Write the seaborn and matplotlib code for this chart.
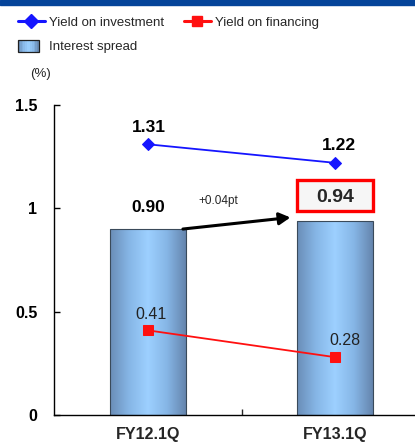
import numpy as np
import pandas as pd
import matplotlib
matplotlib.use("Agg")
import matplotlib.pyplot as plt
import seaborn as sns
from matplotlib.patches import Rectangle
from matplotlib.lines import Line2D
from matplotlib.legend_handler import HandlerBase
from matplotlib.colors import LinearSegmentedColormap

# --- data -------------------------------------------------------------
periods = ["FY12.1Q", "FY13.1Q"]
interest_spread = [0.90, 0.94]
yield_investment = [1.31, 1.22]
yield_financing = [0.41, 0.28]
spread_change_label = "+0.04pt"
y_ticks = [0, 0.5, 1, 1.5]
y_tick_labels = ["0", "0.5", "1", "1.5"]

df = pd.DataFrame({"period": periods, "spread": interest_spread,
                   "invest": yield_investment, "finance": yield_financing})

sns.set_theme(style="white")
plt.rcParams["font.family"] = ["Liberation Sans", "DejaVu Sans"]

fig = plt.figure(figsize=(4.15, 4.43), dpi=100)
ax = fig.add_axes([0.130, 0.063, 0.904, 0.700])

bar_cmap = LinearSegmentedColormap.from_list(
    "spread", ["#6a8db7", "#86b6e6", "#9dd0ff", "#86b6e6", "#6585ad"])

# bars
sns.barplot(data=df, x="period", y="spread", ax=ax, width=0.405,
            color="#8fc3f5", edgecolor="#3a4a5a", linewidth=0.8,
            saturation=1, zorder=2)

grad = np.linspace(0, 1, 256).reshape(1, -1)
bars = list(ax.patches)
for bar in bars:
    x0, w, h = bar.get_x(), bar.get_width(), bar.get_height()
    im = ax.imshow(grad, cmap=bar_cmap, aspect="auto",
                   extent=(x0, x0 + w, 0, h), zorder=2.1)
    im.set_clip_path(bar)
    bar.set_facecolor("none")
    bar.set_zorder(2.2)

# lines
sns.lineplot(x=[0, 1], y=yield_investment, ax=ax, color="#1515ff",
             lw=1.3, marker="D", markersize=6.5, markeredgecolor="#1515ff",
             zorder=4)
sns.lineplot(x=[0, 1], y=yield_financing, ax=ax, color="#ff1010",
             lw=1.3, marker="s", markersize=7, markeredgecolor="#ff1010",
             zorder=4)

ax.set_xlim(-0.5, 1.5)
ax.set_ylim(0, 1.5)

# value labels
def label(x, y, txt, dx, dy, size, weight="normal", color="black"):
    ax.annotate(txt, (x, y), xytext=(dx * 0.72, dy * 0.72),
                textcoords="offset points", ha="center", va="baseline",
                fontsize=size, fontweight=weight, color=color, zorder=6)

label(0, yield_investment[0], f"{yield_investment[0]:.2f}", 1, 12, 12.5, "bold")
label(1, yield_investment[1], f"{yield_investment[1]:.2f}", 4, 12.5, 12.5, "bold")
label(0, yield_financing[0], f"{yield_financing[0]:.2f}", 3, 11, 11.5, color="#222222")
label(1, yield_financing[1], f"{yield_financing[1]:.2f}", 10, 12.5, 11.5, color="#222222")
label(0, interest_spread[0], f"{interest_spread[0]:.2f}", 1, 17, 12.5, "bold")

# highlighted latest spread
b2 = bars[1]
box = Rectangle((b2.get_x(), interest_spread[1] + 0.045), b2.get_width(), 0.152,
                facecolor="#f6f6f6", edgecolor="#ff0000", linewidth=2.4,
                zorder=5)
ax.add_patch(box)
ax.text(1, interest_spread[1] + 0.045 + 0.076, f"{interest_spread[1]:.2f}",
        ha="center", va="center_baseline", fontsize=14, fontweight="bold",
        zorder=6)

# change arrow
b1 = bars[0]
ax.annotate("", xy=(b2.get_x() - 0.037, interest_spread[1] + 0.016),
            xytext=(b1.get_x() + b1.get_width() - 0.015, interest_spread[0]),
            arrowprops=dict(arrowstyle="-|>,head_length=0.55,head_width=0.3",
                            color="black", lw=2.2, shrinkA=0, shrinkB=0),
            zorder=6)
ax.text(0.376, 1.02, spread_change_label, ha="center", va="baseline",
        fontsize=8.5, zorder=6)

# axes styling
for s in ["top", "right"]:
    ax.spines[s].set_visible(False)
for s in ["left", "bottom"]:
    ax.spines[s].set_color("black")
    ax.spines[s].set_linewidth(1.0)
ax.set_yticks(y_ticks)
ax.set_yticklabels(y_tick_labels, fontsize=11.5, fontweight="bold")
ax.tick_params(axis="y", direction="in", length=4, width=1, pad=12,
               colors="black", left=True)
ax.set_xticks([0, 1])
ax.set_xticklabels(periods, fontsize=11.5, fontweight="bold")
ax.tick_params(axis="x", length=0, pad=8.5)
ax.set_xticks([0.5], minor=True)
ax.tick_params(axis="x", which="minor", direction="in", length=4.5,
               width=1, bottom=True)
ax.set_xlabel("")
ax.set_ylabel("")
ax.grid(False)

# unit note
fig.text(30 / 415, 1 - 74 / 443, "(%)", fontsize=9.5, va="center", ha="left")

# top band
fig.add_artist(Rectangle((0, 1 - 5 / 443), 1, 5 / 443,
                         transform=fig.transFigure, color="#05449a"))

# legend
class GradientHandler(HandlerBase):
    def create_artists(self, legend, orig, xd, yd, width, height, fontsize, trans):
        arts = []
        n = 12
        w = width * 0.78
        for i in range(n):
            c = bar_cmap((i + 0.5) / n)
            arts.append(Rectangle((-xd + i * w / n, -yd - 1), w / n + 0.2,
                                  height + 2, facecolor=c, edgecolor="none",
                                  transform=trans))
        arts.append(Rectangle((-xd, -yd - 1), w, height + 2, facecolor="none",
                              edgecolor="#202020", linewidth=0.9,
                              transform=trans))
        return arts

spread_handle = Rectangle((0, 0), 1, 1, label="Interest spread")
inv_handle = Line2D([], [], color="#1515ff", lw=2.2, marker="D",
                    markersize=7.5, label="Yield on investment")
fin_handle = Line2D([], [], color="#ff1010", lw=2.2, marker="s",
                    markersize=7.5, label="Yield on financing")
fig.legend(handles=[inv_handle, spread_handle, fin_handle], ncol=2,
           loc="upper left", bbox_to_anchor=(13 / 415, 1 - 11 / 443),
           frameon=False, fontsize=9.5, handlelength=2.0, handletextpad=0.35,
           columnspacing=1.5, labelspacing=0.95, borderaxespad=0,
           handler_map={Rectangle: GradientHandler()})

fig.savefig("out.png", dpi=100)
